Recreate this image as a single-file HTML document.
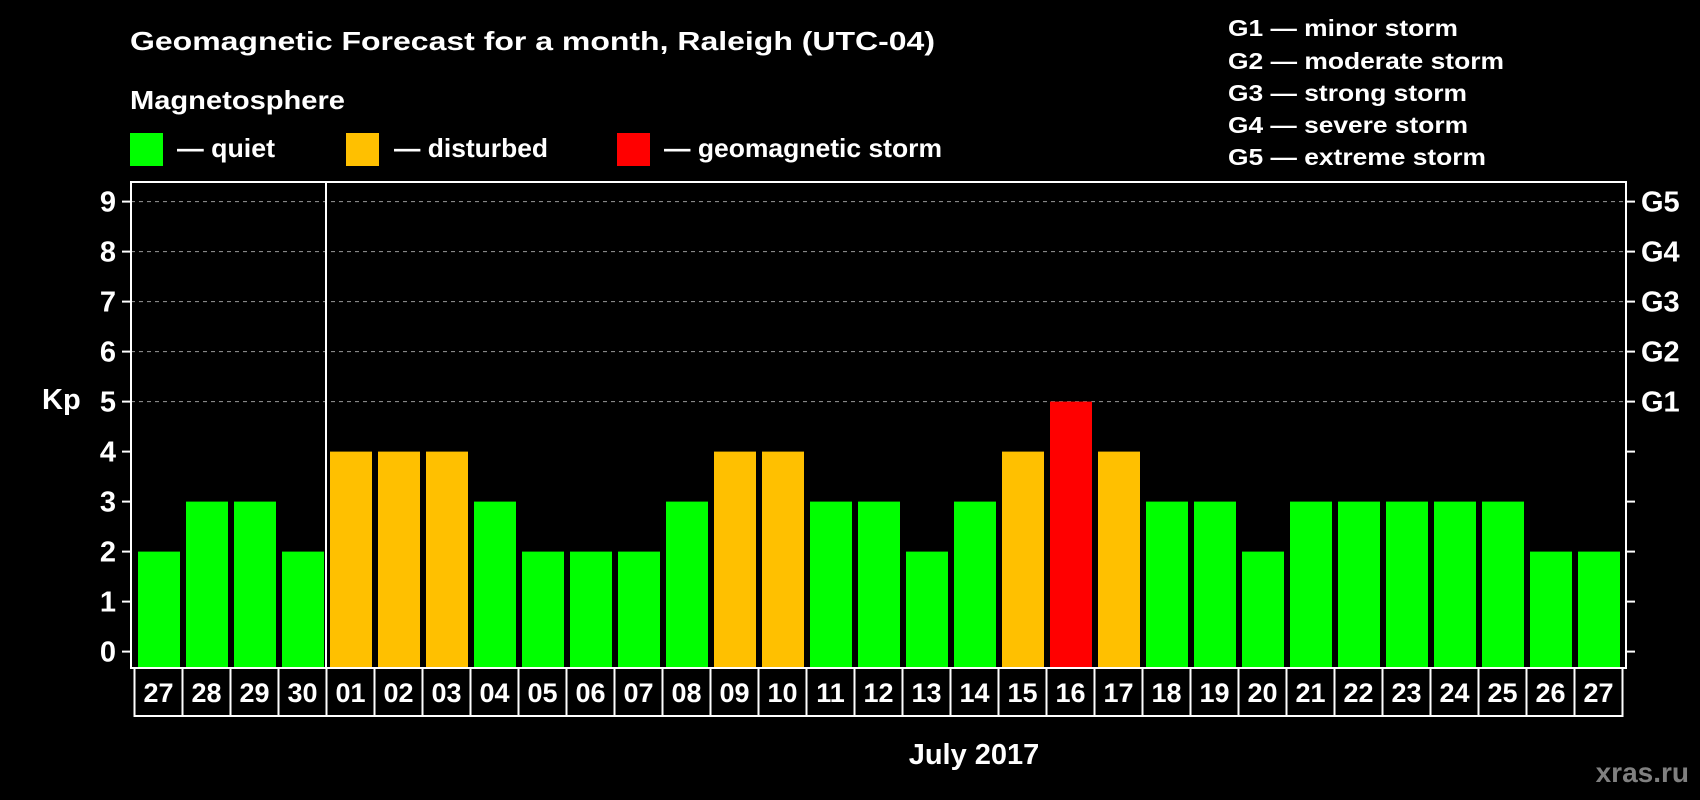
<!DOCTYPE html>
<html><head><meta charset="utf-8"><style>
html,body{margin:0;padding:0;background:#000;}
svg{display:block;font-family:"Liberation Sans",Arial,sans-serif;font-weight:bold;}
</style></head><body>
<svg id="chart" width="1700" height="800" viewBox="0 0 1700 800" xmlns="http://www.w3.org/2000/svg">
<rect width="1700" height="800" fill="#000"/>
<text x="130" y="50" font-size="26" fill="#fff" textLength="805" lengthAdjust="spacingAndGlyphs">Geomagnetic Forecast for a month, Raleigh (UTC-04)</text>
<text x="130" y="109" font-size="26" fill="#fff" textLength="215" lengthAdjust="spacingAndGlyphs">Magnetosphere</text>
<g>
<rect x="130" y="133" width="33" height="33" fill="#00ff00"/>
<text x="177" y="157" font-size="26" fill="#fff" textLength="98" lengthAdjust="spacingAndGlyphs">— quiet</text></g>
<g>
<rect x="346" y="133" width="33" height="33" fill="#ffc000"/>
<text x="394" y="157" font-size="26" fill="#fff" textLength="154" lengthAdjust="spacingAndGlyphs">— disturbed</text></g>
<g>
<rect x="617" y="133" width="33" height="33" fill="#ff0000"/>
<text x="664" y="157" font-size="26" fill="#fff" textLength="278" lengthAdjust="spacingAndGlyphs">— geomagnetic storm</text></g>
<g font-size="23" fill="#fff">
<text x="1228" y="36" textLength="230" lengthAdjust="spacingAndGlyphs">G1 — minor storm</text>
<text x="1228" y="69" textLength="276" lengthAdjust="spacingAndGlyphs">G2 — moderate storm</text>
<text x="1228" y="101" textLength="239" lengthAdjust="spacingAndGlyphs">G3 — strong storm</text>
<text x="1228" y="133" textLength="240" lengthAdjust="spacingAndGlyphs">G4 — severe storm</text>
<text x="1228" y="165" textLength="258" lengthAdjust="spacingAndGlyphs">G5 — extreme storm</text>
</g>
<g id="grid"></g>
<g id="bars"></g>
<rect x="131" y="182" width="1495" height="486" fill="none" stroke="#fff" stroke-width="2"/>
<g id="axes"></g>
<g id="xlabels"></g>
<text x="42" y="409" font-size="29" fill="#fff">Kp</text>
<text x="974" y="764" font-size="29" fill="#fff" text-anchor="middle">July 2017</text>
<text x="1689" y="782" font-size="28" fill="#808080" text-anchor="end">xras.ru</text>
</svg>
<script>
const days = ["27","28","29","30","01","02","03","04","05","06","07","08","09","10","11","12","13","14","15","16","17","18","19","20","21","22","23","24","25","26","27"];
const kp = [2,3,3,2,4,4,4,3,2,2,2,3,4,4,3,3,2,3,4,5,4,3,3,2,3,3,3,3,3,2,2];
const yTicks = [0,1,2,3,4,5,6,7,8,9];
const gLabels = ["G1","G2","G3","G4","G5"];
const NS="http://www.w3.org/2000/svg";
const y = v => 651.6 - 50*v;
const x = i => 138 + 48*i;
const BW = 42;
const BOTTOM = 668;
function mk(tag, attrs, parent){const e=document.createElementNS(NS,tag);for(const k in attrs)e.setAttribute(k,attrs[k]);parent.appendChild(e);return e;}
const grid=document.getElementById('grid'), bars=document.getElementById('bars'), axes=document.getElementById('axes'), xl=document.getElementById('xlabels');
yTicks.forEach(v=>{
  if(v>=5){const l=mk('line',{x1:131,x2:1626,y1:y(v),y2:y(v),stroke:'#999','stroke-width':1,'stroke-dasharray':'4,4'},grid);
  
  }
  const t1=mk('line',{x1:122,x2:131,y1:y(v),y2:y(v),stroke:'#fff','stroke-width':2},axes);
  
  
  const t2=mk('line',{x1:1626,x2:1635,y1:y(v),y2:y(v),stroke:'#fff','stroke-width':2},axes);
  
  
  const tl=mk('text',{x:116,y:y(v)+10,'font-size':29,fill:'#fff','text-anchor':'end'},axes);
  tl.textContent=v;
  
  
});
gLabels.forEach((g,i)=>{
  const t=mk('text',{x:1641,y:y(5+i)+10,'font-size':29,fill:'#fff'},axes);
  t.textContent=g;
  
  
});
const div=mk('line',{x1:326,x2:326,y1:182,y2:BOTTOM,stroke:'#fff','stroke-width':2},axes);


kp.forEach((v,i)=>{
  const c = v>=5?'#ff0000':(v>=4?'#ffc000':'#00ff00');
  const r=mk('rect',{x:x(i),y:y(v),width:BW,height:BOTTOM-y(v),fill:c},bars);
  
  
});
days.forEach((d,i)=>{
  const bx=x(i)-3.5;
  const b=mk('rect',{x:bx,y:BOTTOM,width:48,height:48,fill:'none',stroke:'#fff','stroke-width':2},xl);
  
  
  const t=mk('text',{x:bx+24,y:702,'font-size':27,fill:'#fff','text-anchor':'middle'},xl);
  t.textContent=d;
  
  
});
</script>
</body></html>
